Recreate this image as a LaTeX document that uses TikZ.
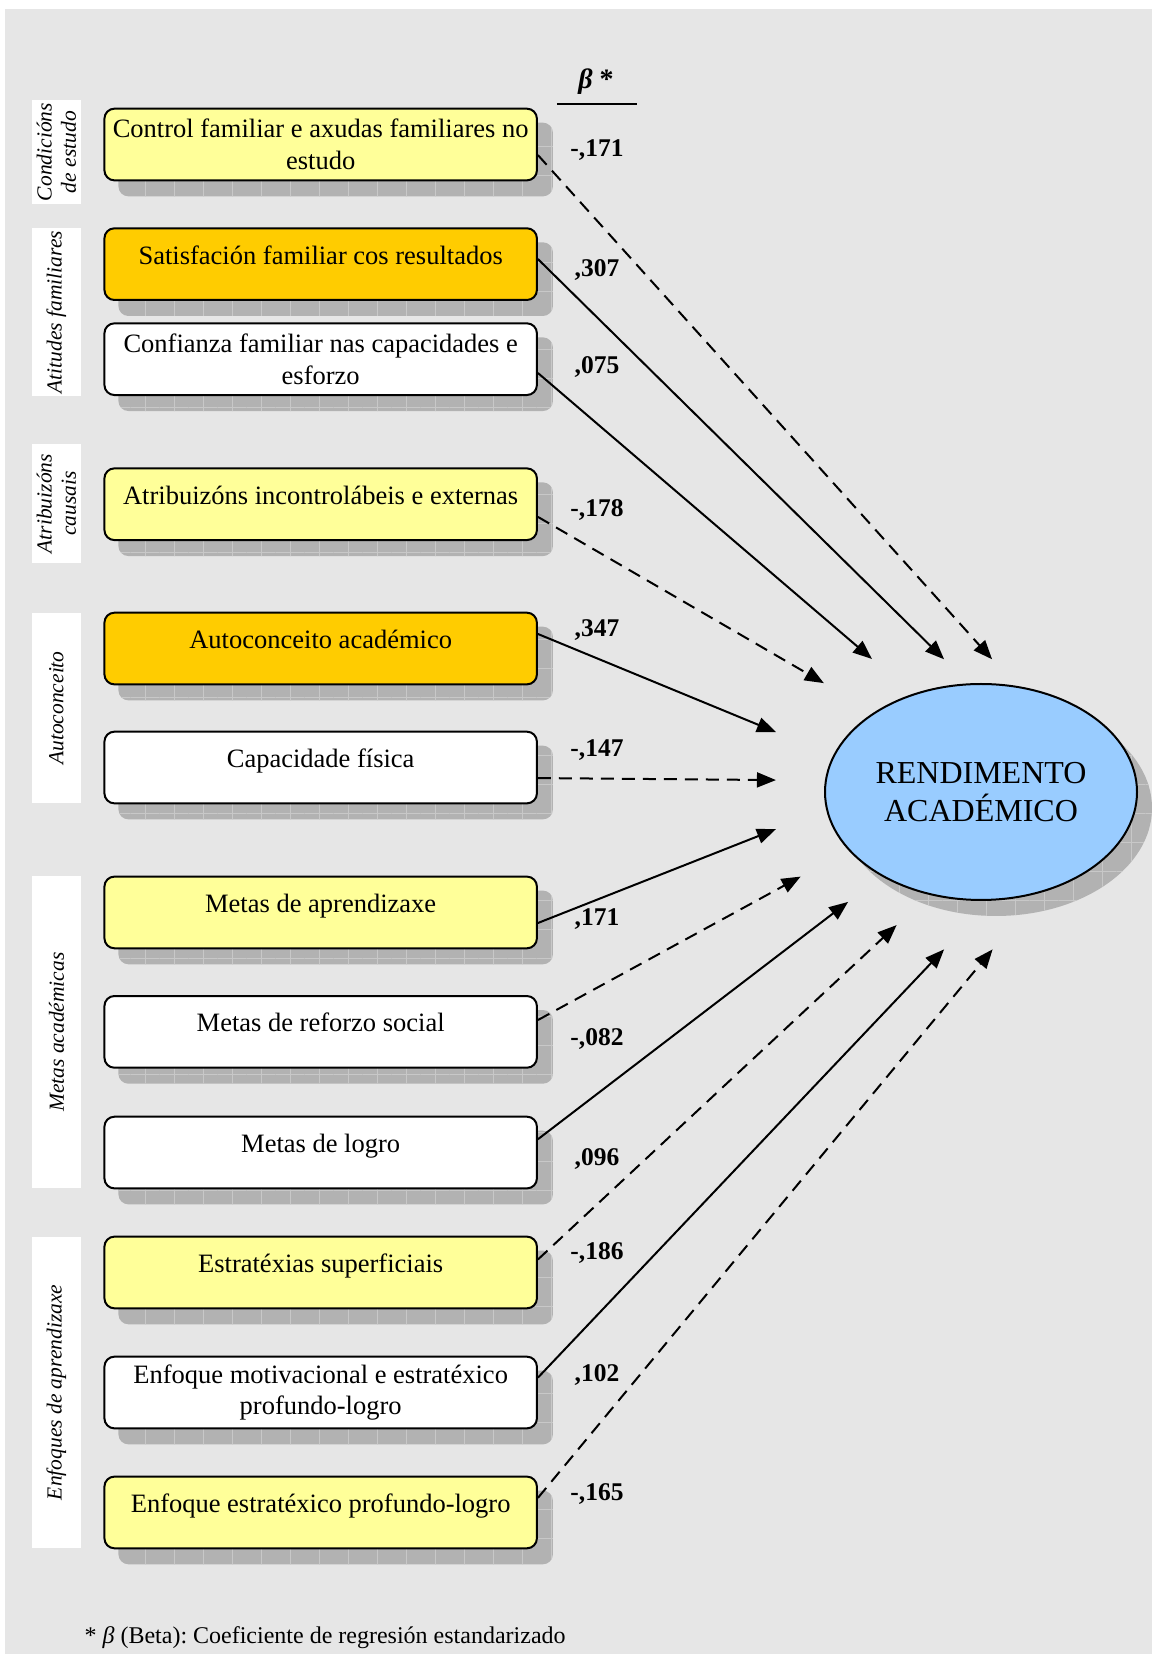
\documentclass[tikz,border=0pt]{standalone}
\usepackage{fontspec}
\setmainfont{Liberation Serif}
\usetikzlibrary{arrows.meta,patterns.meta,shapes.geometric}
\frenchspacing

\definecolor{pagegray}{RGB}{230,230,230}
\definecolor{shadowgray}{RGB}{178,178,178}
\definecolor{gridgray}{RGB}{200,200,200}
\definecolor{paleyellow}{RGB}{255,255,153}
\definecolor{amber}{RGB}{255,204,0}
\definecolor{skyblue}{RGB}{153,204,255}

\pgfdeclarelayer{backdrop}
\pgfdeclarelayer{shadows}
\pgfsetlayers{backdrop,shadows,main}

\newcommand\bxfont{\fontsize{26.5}{31.6}\selectfont}
\newcommand\lbfont{\fontsize{21.5}{24.3}\selectfont\itshape}
\newcommand\cffont{\fontsize{25.5}{30}\selectfont\bfseries}
\newcommand\rdfont{\fontsize{32}{38.3}\selectfont}
\newcommand\hdfont{\fontsize{28}{32}\selectfont\bfseries}
\newcommand\ftfont{\fontsize{24}{28}\selectfont}

\begin{document}
\begin{tikzpicture}[x=1.0549pt,y=-1.0549pt,
  varbox/.style={draw=black, line width=2pt, rounded corners=10pt,
    minimum width=432.5pt, minimum height=71.7pt, inner sep=0pt,
    align=center, font=\bxfont},
  oneline/.style={text height=18pt, text depth=18pt},
  grouplabel/.style={fill=white, rotate=90, inner sep=0pt,
    minimum height=49pt, align=center, font=\lbfont},
  coef/.style={anchor=base, inner sep=0pt, font=\cffont},
  gridfill/.style={fill=shadowgray,
    postaction={pattern={Hatch[angle=0,distance=29pt,line width=0.7pt]},
      pattern color=gridgray}},
  boxshadow/.style={gridfill, rounded corners=10pt},
  conn/.style={line width=2pt, -{Triangle[length=19pt,width=15pt]}},
  dashedconn/.style={conn, dash pattern=on 13pt off 8pt}]

\useasboundingbox (0,0) rectangle (1092,1568);

% page background
\begin{pgfonlayer}{backdrop}
  \fill[pagegray] (4.6,8.8) rectangle (1092,1568);
\end{pgfonlayer}

% column header
\node[font=\hdfont, anchor=base, inner sep=0pt] (beta) at (565,83.5) {\textit{β} *};
\draw[line width=2pt] (528,99) -- (604,99);

% group labels
\node[grouplabel, minimum width=103.8pt] (s1) at (53.5,144.2) {Condicións\\de estudo};
\node[grouplabel, minimum width=167.7pt] (s2) at (53.5,295.9) {Atitudes familiares};
\node[grouplabel, minimum width=119.2pt] (s3) at (53.5,477.5) {Atribuizóns\\causais};
\node[grouplabel, minimum width=190.6pt] (s4) at (53.5,671.2) {Autoconceito};
\node[grouplabel, minimum width=312.4pt] (s5) at (53.5,978.5) {Metas académicas};
\node[grouplabel, minimum width=311.7pt] (s6) at (53.5,1320) {Enfoques de aprendizaxe};

% predictor boxes
\node[varbox, fill=paleyellow] (b1) at (304,137) {Control familiar e axudas familiares no\\estudo};
\node[varbox, oneline, fill=amber] (b2) at (304,250.4) {Satisfación familiar cos resultados};
\node[varbox, fill=white] (b3) at (304,340.5) {Confianza familiar nas capacidades e\\esforzo};
\node[varbox, oneline, fill=paleyellow] (b4) at (304,478) {Atribuizóns incontrolábeis e externas};
\node[varbox, oneline, fill=amber] (b5) at (304,614.8) {Autoconceito académico};
\node[varbox, oneline, fill=white] (b6) at (304,727.6) {Capacidade física};
\node[varbox, oneline, fill=paleyellow] (b7) at (304,865) {Metas de aprendizaxe};
\node[varbox, oneline, fill=white] (b8) at (304,978.2) {Metas de reforzo social};
\node[varbox, oneline, fill=white] (b9) at (304,1092.6) {Metas de logro};
\node[varbox, oneline, fill=paleyellow] (b10) at (304,1206.3) {Estratéxias superficiais};
\node[varbox, fill=white] (b11) at (304,1320.1) {Enfoque motivacional e estratéxico\\profundo-logro};
\node[varbox, oneline, fill=paleyellow] (b12) at (304,1433.8) {Enfoque estratéxico profundo-logro};

% outcome
\node[ellipse, draw=black, line width=2pt, fill=skyblue, minimum width=312pt,
  minimum height=216pt, inner sep=0pt, align=center, font=\rdfont]
  (rend) at (930,750.8) {RENDIMENTO\\ACADÉMICO};

% drop shadows
\begin{pgfonlayer}{shadows}
  \foreach \b in {b1,b2,b3,b4,b5,b6,b7,b8,b9,b10,b11,b12}
    \path[boxshadow] ([shift={(15pt,-15pt)}]\b.south west) rectangle ([shift={(15pt,-15pt)}]\b.north east);
  \path[gridfill] ([shift={(15pt,-16pt)}]rend.center) ellipse [x radius=156pt, y radius=108pt];
\end{pgfonlayer}

% standardized coefficients
\node[coef] (c1) at (566,148.5) {-,171};
\node[coef] (c2) at (566,262.3) {,307};
\node[coef] (c3) at (566,353.6) {,075};
\node[coef] (c4) at (566,489.8) {-,178};
\node[coef] (c5) at (566,603.5) {,347};
\node[coef] (c6) at (566,717.3) {-,147};
\node[coef] (c7) at (566,876.9) {,171};
\node[coef] (c8) at (566,991.3) {-,082};
\node[coef] (c9) at (566,1105.3) {,096};
\node[coef] (c10) at (566,1194.4) {-,186};
\node[coef] (c11) at (566,1309.8) {,102};
\node[coef] (c12) at (566,1422.6) {-,165};

% arrow tips around the outcome
\coordinate (t1) at (940.5,625);
\coordinate (t2) at (895,625);
\coordinate (t3) at (826.6,624.7);
\coordinate (t4) at (781,647.6);
\coordinate (t5) at (735.6,694);
\coordinate (t6) at (735.6,739.5);
\coordinate (t7) at (735.6,786);
\coordinate (t8) at (759,831);
\coordinate (t9) at (804,855);
\coordinate (t10) at (850,877);
\coordinate (t11) at (895,900);
\coordinate (t12) at (941,900);

% paths
\draw[dashedconn] (b1.east |- 0,147) -- (t1);
\draw[conn] (b2.east |- 0,245.6) -- (t2);
\draw[conn] (b3.east |- 0,353.6) -- (t3);
\draw[dashedconn] (b4.east |- 0,490) -- (t4);
\draw[conn] (b5.east |- 0,601) -- (t5);
\draw[dashedconn] (b6.east |- 0,737.6) -- (t6);
\draw[conn] (b7.east |- 0,875) -- (t7);
\draw[dashedconn] (b8.east |- 0,967) -- (t8);
\draw[conn] (b9.east |- 0,1080) -- (t9);
\draw[dashedconn] (b10.east |- 0,1194) -- (t10);
\draw[conn] (b11.east |- 0,1306) -- (t11);
\draw[dashedconn] (b12.east |- 0,1420) -- (t12);

% footnote
\node[font=\ftfont, anchor=base west, inner sep=0pt] (note) at (80,1557.6)
  {* \textit{β} (Beta): Coeficiente de regresión estandarizado};
\end{tikzpicture}
\end{document}
